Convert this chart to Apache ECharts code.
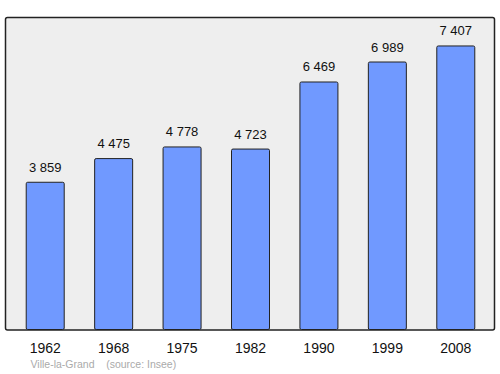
<!DOCTYPE html>
<html><head><meta charset="utf-8">
<script src="https://cdn.jsdelivr.net/npm/echarts@6/dist/echarts.min.js"></script>
<style>html,body{margin:0;padding:0;background:#fff}#c{width:500px;height:374px}</style>
</head><body><div id="c"></div>
<script>
const years = ['1962','1968','1975','1982','1990','1999','2008'];
const population = [3859, 4475, 4778, 4723, 6469, 6989, 7407];
const sourceText = 'Ville-la-Grand    (source: Insee)';

const FONT = '"Liberation Sans", Arial, sans-serif';
const chart = echarts.init(document.getElementById('c'), null, {renderer:'svg'});
const fmt = v => String(v).replace(/\B(?=(\d{3})+(?!\d))/g, ' ');
chart.setOption({
  animation:false,
  graphic:[
    {type:'rect', z:-10, shape:{x:5.5,y:17.5,width:489,height:312.5,r:2}, style:{fill:'#eeeeee',stroke:'#222',lineWidth:1.5}},
    {type:'text', left:30.5, top:358.5, style:{text:sourceText, fill:'#aaaaaa', font:'10.5px ' + FONT}}
  ],
  grid:{left:11, right:10, top:17, bottom:44},
  xAxis:{type:'category', data:years, axisLine:{show:false}, axisTick:{show:false},
    axisLabel:{color:'#111', fontSize:14, fontFamily:FONT, margin:11}},
  yAxis:{type:'value', min:0, max:Math.max(...population)*1.1, show:false, splitLine:{show:false}},
  series:[{type:'bar', data:population, barWidth:39,
    itemStyle:{color:'#7099ff', borderColor:'#222', borderWidth:1, borderRadius:1.5},
    label:{show:true, position:'top', distance:8, formatter:p=>fmt(p.value), color:'#111', fontSize:13, fontFamily:FONT}
  }]
});
</script></body></html>
